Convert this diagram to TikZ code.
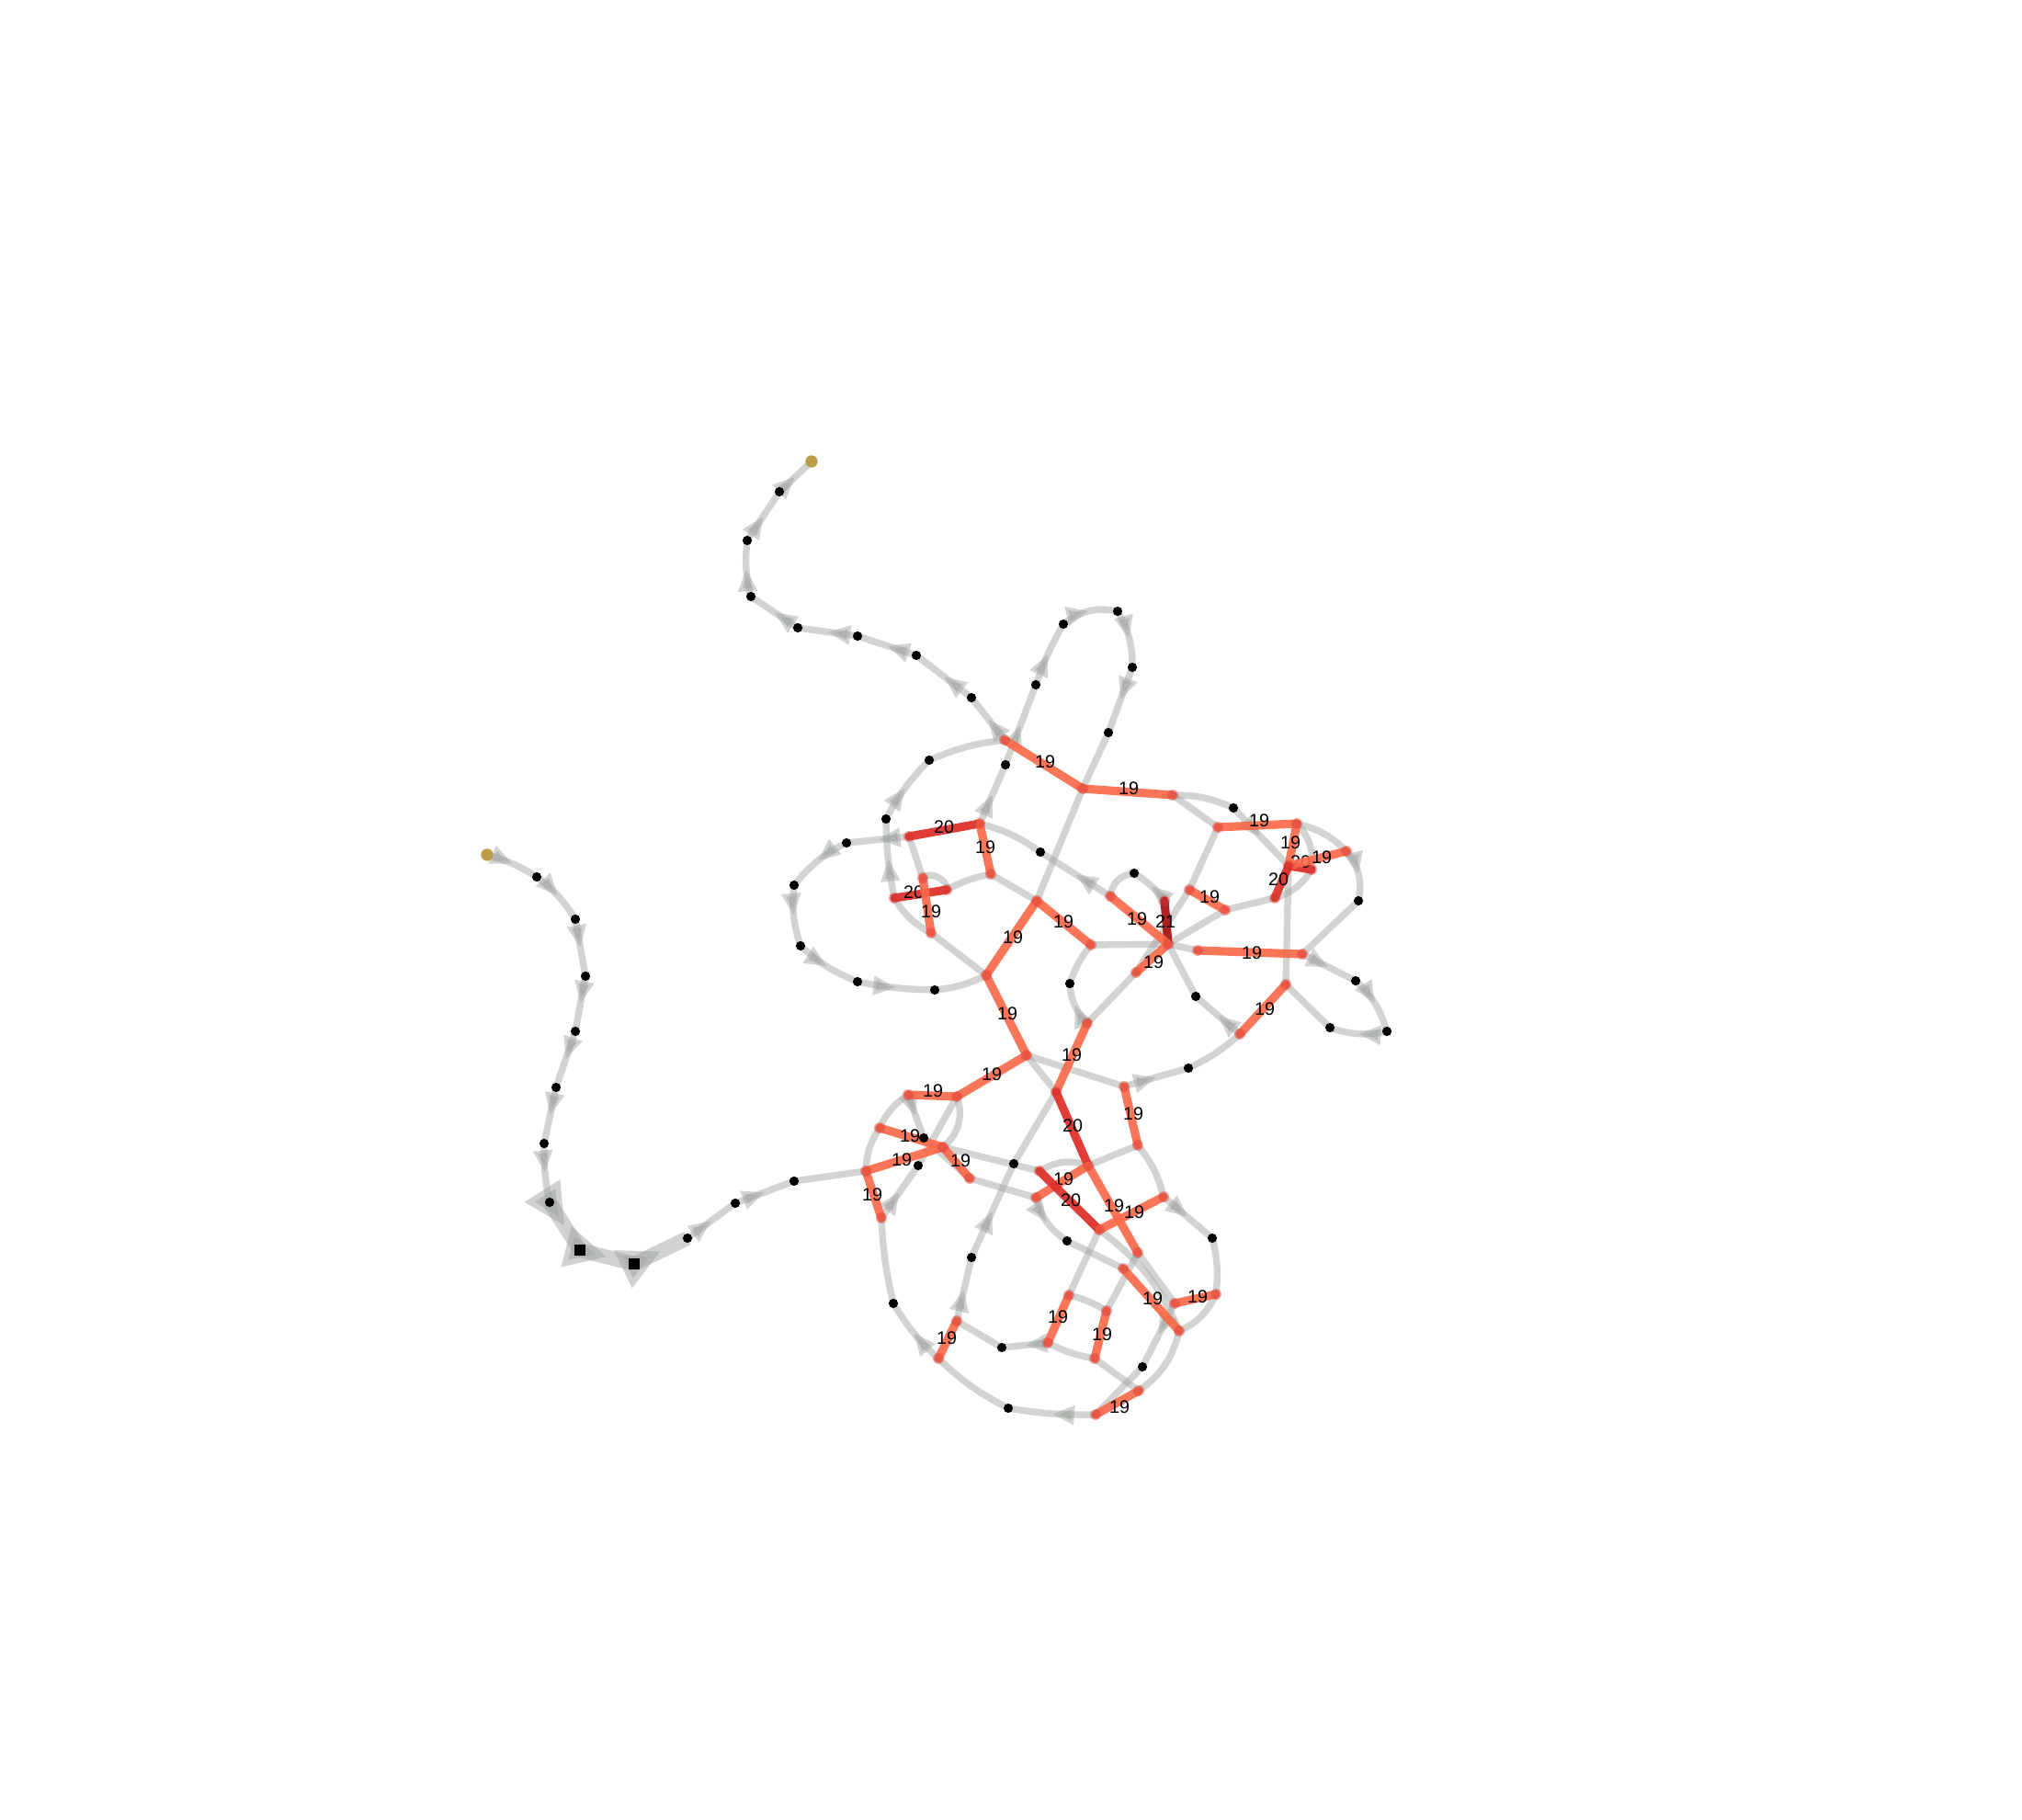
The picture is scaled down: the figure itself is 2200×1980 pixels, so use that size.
\documentclass[tikz,border=0pt]{standalone}
\usepackage{fontspec}
\setmainfont{Liberation Sans}
\usetikzlibrary{arrows.meta,decorations.markings}
\definecolor{lgray}{RGB}{160,165,160}
\definecolor{c19}{RGB}{251,106,74}
\definecolor{c20}{RGB}{222,45,38}
\definecolor{c21}{RGB}{165,15,21}
\definecolor{hubred}{RGB}{215,60,55}
\definecolor{gold}{RGB}{190,156,72}
\begin{document}
\begin{tikzpicture}[x=0.01cm,y=-0.01cm,
  strand/.style={draw=lgray, line width=2.1pt, opacity=.48, line cap=round},
  flow/.style={strand, postaction={decorate}, decoration={markings, mark=at position .5 with {\arrow{Triangle[length=7pt,width=5.6pt]}}}},
  bigflow/.style={draw=lgray, line width=4.5pt, opacity=.5, postaction={decorate}, decoration={markings, mark=at position .5 with {\arrow{Triangle[length=13pt,width=12pt]}}}},
  contact/.style={line width=2.6pt, opacity=.92, line cap=round},
  lab/.style={font=\fontsize{5.6}{6.5}\selectfont, inner sep=0pt}]
\useasboundingbox (0,0) rectangle (2200,1980);

% chain points
\coordinate (g1) at (530,930);  \coordinate (l1) at (584,954);  \coordinate (l2) at (626,1000);
\coordinate (l3) at (637,1062); \coordinate (l4) at (626,1122); \coordinate (l5) at (605,1183);
\coordinate (l6) at (592,1244); \coordinate (l7) at (598,1308); \coordinate (s1) at (631,1360);
\coordinate (s2) at (690,1375); \coordinate (l8) at (748,1347); \coordinate (l9) at (800,1309);
\coordinate (l10) at (864,1285);
\coordinate (g2) at (883,502);  \coordinate (t1) at (848,535);  \coordinate (t2) at (813,588);
\coordinate (t3) at (817,649);  \coordinate (t4) at (868,683);  \coordinate (t5) at (933,692);
\coordinate (t6) at (997,713);  \coordinate (t7) at (1057,759);
\coordinate (A) at (1093,805);  \coordinate (B) at (1178,858);  \coordinate (C) at (1276,865);
\coordinate (u1) at (1011,827); \coordinate (u2) at (964,891);  \coordinate (u3) at (1094,832);
\coordinate (u4) at (1127,745); \coordinate (u5) at (1157,679); \coordinate (u6) at (1216,665);
\coordinate (u7) at (1232,726); \coordinate (u8) at (1206,797);
\coordinate (D1) at (989,910);  \coordinate (D2) at (1066,896); \coordinate (D3) at (1078,951);
\coordinate (D4) at (1004,955); \coordinate (D5) at (1030,968); \coordinate (D6) at (973,977);
\coordinate (D7) at (1013,1015);
\coordinate (w1) at (921,917);  \coordinate (w2) at (864,963);  \coordinate (w3) at (871,1029);
\coordinate (w4) at (933,1068); \coordinate (w5) at (1017,1077);
\coordinate (E1) at (1128,980); \coordinate (E2) at (1187,1028); \coordinate (E3) at (1073,1061);
\coordinate (E4) at (1208,975);
\coordinate (v1) at (1132,927); \coordinate (v2) at (1234,950); \coordinate (v3) at (1164,1070);
\coordinate (F1) at (1271,1027); \coordinate (F2) at (1303,1034); \coordinate (F3) at (1417,1038);
\coordinate (F4) at (1236,1058); \coordinate (F5) at (1294,968);  \coordinate (F6) at (1333,990);
\coordinate (F7) at (1267,980);
\coordinate (x1) at (1301,1084); \coordinate (x2) at (1293,1162);
\coordinate (y1) at (1342,879); \coordinate (y2) at (1478,980); \coordinate (y3) at (1475,1067);
\coordinate (y4) at (1509,1122); \coordinate (y5) at (1447,1118);
\coordinate (H1) at (1325,900); \coordinate (H2) at (1411,896); \coordinate (H3) at (1402,942);
\coordinate (H4) at (1427,946); \coordinate (H5) at (1387,977); \coordinate (H6) at (1465,926);
\coordinate (H7) at (1399,1071); \coordinate (H8) at (1349,1125);
\coordinate (S0) at (1183,1113); \coordinate (S1) at (1117,1148); \coordinate (S2) at (1131,1274);
\coordinate (S3) at (1127,1303); \coordinate (S4) at (1184,1268); \coordinate (S5) at (1149,1188);
\coordinate (S6) at (1223,1182); \coordinate (S7) at (1238,1246); \coordinate (S8) at (1266,1302);
\coordinate (S9) at (1196,1338); \coordinate (S10) at (1238,1363);
\coordinate (dC) at (1103,1266); \coordinate (z1) at (1319,1347); \coordinate (z2) at (1161,1350);
\coordinate (z3) at (1057,1368);
\coordinate (Q1) at (988,1191);  \coordinate (Q2) at (1041,1193); \coordinate (Q3) at (957,1227);
\coordinate (Q4) at (1026,1248); \coordinate (Q5) at (1055,1282); \coordinate (Q6) at (959,1325);
\coordinate (P1) at (942,1274);  \coordinate (dQ) at (1005,1238); \coordinate (dQ2) at (999,1268);
\coordinate (T1) at (1041,1437); \coordinate (T2) at (1021,1478); \coordinate (T3) at (1140,1461);
\coordinate (T4) at (1163,1409); \coordinate (T5) at (1204,1426); \coordinate (T6) at (1191,1478);
\coordinate (T7) at (1222,1380); \coordinate (T8) at (1283,1448); \coordinate (T9) at (1278,1418);
\coordinate (T10) at (1323,1408); \coordinate (T11) at (1239,1513); \coordinate (T12) at (1192,1539);
\coordinate (b1) at (972,1418); \coordinate (b2) at (1090,1466); \coordinate (b3) at (1243,1487);
\coordinate (b4) at (1097,1532);

% gray strands
\path (g1) edge[flow, bend left=8] (l1) (l1) edge[flow, bend left=10] (l2) (l2) edge[flow] (l3)
  (l3) edge[flow] (l4) (l4) edge[flow] (l5) (l5) edge[flow] (l6) (l6) edge[flow, bend right=6] (l7);
\path (l7) edge[bigflow] (s1) (s1) edge[bigflow] (s2) (s2) edge[bigflow] (l8);
\path (l8) edge[flow] (l9) (l9) edge[flow] (l10) (l10) edge[strand] (P1);
\path (A) edge[flow] (t7) (t7) edge[flow] (t6) (t6) edge[flow] (t5) (t5) edge[flow] (t4)
  (t4) edge[flow] (t3) (t3) edge[flow, bend left=10] (t2) (t2) edge[flow] (t1) (t1) edge[flow] (g2);
\path (u2) edge[flow, bend left=8] (u1) (u1) edge[strand, bend left=8] (A);
\path (D2) edge[flow] (u3) (u3) edge[flow] (u4) (u4) edge[flow, bend left=5] (u5) (u5) edge[flow, bend left=25] (u6)
  (u6) edge[flow, bend left=15] (u7) (u7) edge[flow] (u8) (u8) edge[strand] (B) (B) edge[strand] (E1);
\path (D1) edge[flow] (w1) (w1) edge[flow, bend right=12] (w2) (w2) edge[flow, bend right=12] (w3)
  (w3) edge[flow, bend right=10] (w4) (w4) edge[flow, bend right=5] (w5) (w5) edge[strand, bend right=10] (E3);
\path (D1) edge[strand] (D4) (D4) edge[strand, bend left=70] (D5) (D5) edge[strand, bend left=8] (D3)
  (D3) edge[strand] (E1) (E3) edge[strand] (D7) (D7) edge[strand, bend left=15] (D6) (D6) edge[flow, bend left=5] (u2);
\path (E4) edge[flow] (v1) (v1) edge[strand, bend right=10] (D2) (E4) edge[strand, bend left=40] (v2)
  (F7) edge[flow, bend right=10] (v2) (F1) edge[strand] (x1) (H8) edge[flow] (x1);
\path (E2) edge[strand] (F1) (F1) edge[strand] (F2) (S0) edge[flow, bend left=20] (v3) (v3) edge[strand, bend left=10] (E2);
\path (S0) edge[strand] (F4) (F4) edge[strand] (F5) (F5) edge[strand] (H1) (F1) edge[strand] (F6) (F6) edge[strand] (H5);
\path (C) edge[strand, bend left=12] (y1) (C) edge[strand] (H1) (y1) edge[flow] (H3);
\path (H2) edge[strand, bend left=15] (H6) (H6) edge[flow, bend left=25] (y2) (H2) edge[strand, bend left=25] (H4)
  (H4) edge[strand, bend left=20] (H5) (H3) edge[strand] (H7);
\path (y2) edge[strand] (F3) (F3) edge[flow] (y3) (y3) edge[flow, bend left=15] (y4) (y4) edge[flow, bend left=15] (y5) (y5) edge[strand] (H7);
\path (S6) edge[flow] (x2) (x2) edge[strand, bend right=8] (H8);
\path (S1) edge[strand] (S6) (S1) edge[strand] (S5) (S5) edge[strand] (dC) (T1) edge[flow] (z3) (z3) edge[flow] (dC) (Q4) edge[strand] (S2);
\path (S2) edge[strand, bend left=25] (S4) (S4) edge[strand] (S7) (S7) edge[strand, bend left=12] (S8) (S8) edge[flow] (z1)
  (z1) edge[strand, bend left=10] (T10) (T10) edge[strand, bend left=20] (T8) (T8) edge[strand, bend left=20] (T11);
\path (T9) edge[flow] (b3) (b3) edge[strand] (T12) (T12) edge[flow, bend left=5] (b4) (b4) edge[strand, bend left=8] (T2)
  (T2) edge[flow, bend left=8] (b1) (b1) edge[strand, bend left=5] (Q6) (Q6) edge[flow] (dQ2) (dQ2) edge[strand] (Q2);
\path (S3) edge[flow, bend right=20] (z2) (z2) edge[strand] (T7) (Q5) edge[strand] (S3) (Q1) edge[flow] (dQ) (dQ) edge[strand] (Q5)
  (Q2) edge[strand, bend left=35] (Q4) (P1) edge[strand, bend left=15] (Q3) (Q3) edge[strand, bend left=15] (Q1);
\path (S9) edge[strand] (T4) (T4) edge[strand, bend left=8] (T5) (T5) edge[strand] (S10) (S10) edge[strand] (T9) (S9) edge[strand, bend left=15] (T8);
\path (T3) edge[flow] (b2) (b2) edge[strand] (T1) (T3) edge[strand, bend right=8] (T6) (T6) edge[strand] (T11);

% contacts
\foreach \a/\b/\w/\lx/\ly in {A/B/19/1137/829, B/C/19/1228/858, D1/D2/20/1027/900, D2/D3/19/1072/922,
  D6/D5/20/994/971, D4/D7/19/1013/992, E1/E2/19/1157/1003, E1/E3/19/1102/1020, E3/S1/19/1096/1103,
  S1/Q2/19/1079/1169, Q1/Q2/19/1015/1187, Q3/Q4/19/990/1236, P1/Q4/19/981/1262, Q4/Q5/19/1045/1263,
  P1/Q6/19/949/1300, S0/S5/19/1166/1148, S5/S4/20/1167/1225, S6/S7/19/1233/1212, S3/S4/19/1157/1283,
  S2/S9/20/1165/1306, S4/S10/19/1212/1312, S9/S8/19/1234/1319, H1/H2/19/1370/893, H2/H3/19/1404/917,
  H3/H4/20/1415/938, H3/H6/19/1438/933, H3/H5/20/1391/957, F5/F6/19/1316/976, F7/F1/21/1268/1003,
  E4/F1/19/1237/1000, F4/F1/19/1255/1047, F2/F3/19/1362/1037, H7/H8/19/1376/1098, T1/T2/19/1030/1456,
  T4/T3/19/1151/1433, T5/T6/19/1199/1452, T7/T8/19/1254/1413, T9/T10/19/1303/1411, T11/T12/19/1218/1531}
{
  \draw[contact, draw=c\w] (\a) -- (\b);
  \node[lab] at (\lx,\ly) {\w};
}

% points
\foreach \p in {A,B,C,D1,D2,D3,D4,D5,D6,D7,E1,E2,E3,E4,F1,F2,F3,F4,F5,F6,F7,H1,H2,H3,H4,H5,H6,H7,H8,
  S0,S1,S2,S3,S4,S5,S6,S7,S8,S9,S10,Q1,Q2,Q3,Q4,Q5,Q6,P1,T1,T2,T3,T4,T5,T6,T7,T8,T9,T10,T11,T12}
  \fill[hubred, opacity=.45] (\p) circle[radius=1.7pt];
\foreach \p in {l1,l2,l3,l4,l5,l6,l7,l8,l9,l10,t1,t2,t3,t4,t5,t6,t7,u1,u2,u3,u4,u5,u6,u7,u8,
  w1,w2,w3,w4,w5,v1,v2,v3,x1,x2,y1,y2,y3,y4,y5,z1,z2,z3,b1,b2,b3,b4,dQ,dQ2,dC}
  \fill[black] (\p) circle[radius=1.45pt];
\fill[black] (s1) ++(-1.6pt,-1.6pt) rectangle ++(3.2pt,3.2pt);
\fill[black] (s2) ++(-1.6pt,-1.6pt) rectangle ++(3.2pt,3.2pt);
\fill[gold] (g1) circle[radius=1.9pt];
\fill[gold] (g2) circle[radius=1.9pt];
\end{tikzpicture}
\end{document}
